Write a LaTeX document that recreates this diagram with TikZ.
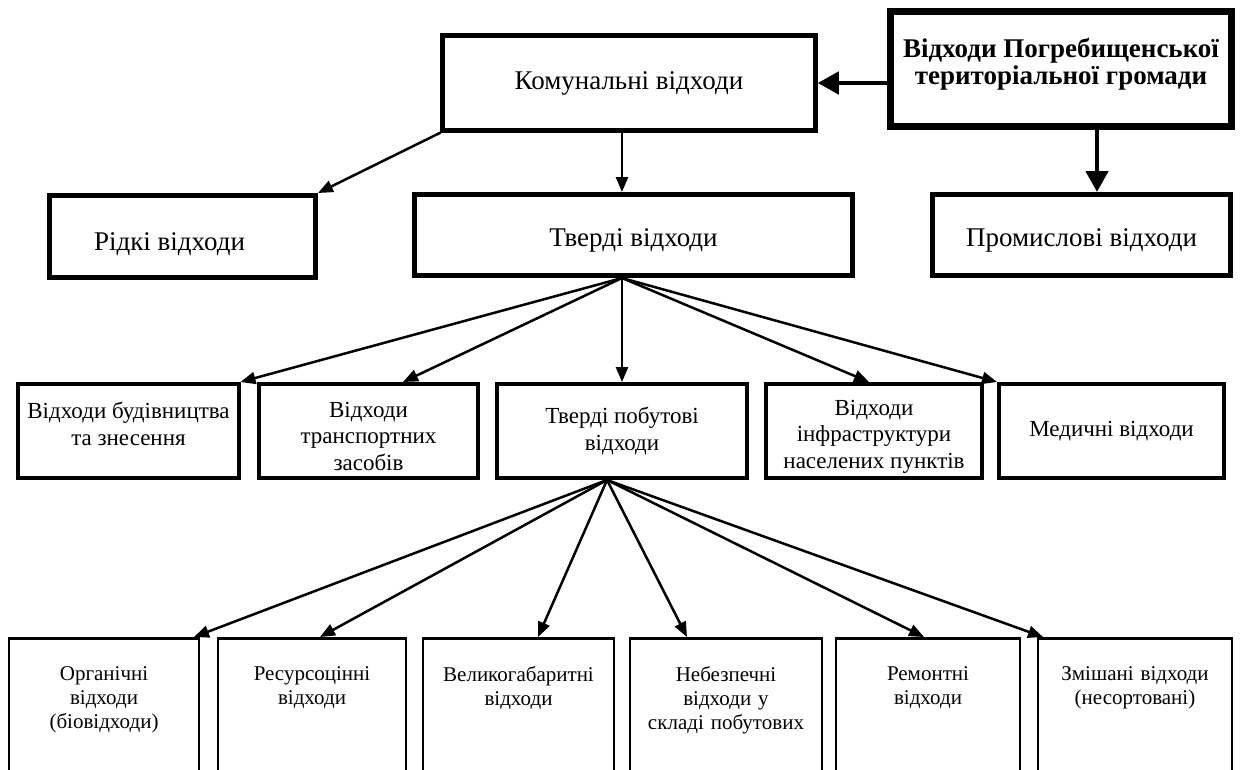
\documentclass[tikz,border=0pt]{standalone}
\usepackage{fontspec}
\setmainfont{Liberation Serif}
\usetikzlibrary{arrows.meta,calc}

\begin{document}
\begin{tikzpicture}[line cap=round,line join=round,>={Triangle[length=15pt,width=12pt]},x=1pt,y=-1pt,
    box/.style={draw,line join=miter,align=center,inner sep=2pt},
    headbox/.style={box,line width=7pt,font=\fontsize{27}{27}\selectfont\bfseries},
    mainbox/.style={box,line width=5pt,font=\fontsize{27}{30}\selectfont},
    midbox/.style={box,line width=4pt,minimum width=#1,minimum height=94pt,font=\fontsize{23}{26.5}\selectfont},
    lowbox/.style={box,line width=2.5pt,anchor=north,minimum width=#1,text width=176pt,inner ysep=28pt,text depth=150pt,font=\fontsize{21}{24}\selectfont},
    arr/.style={->,line width=2.5pt},
    bigarr/.style={->,line width=4.5pt,>={Triangle[length=21pt,width=22pt]}}]
  \useasboundingbox (0,0) rectangle (1240,769);
  \node[headbox,minimum width=341pt,minimum height=115pt,text depth=16pt] (hromada) at (1061,69) {Відходи Погребищенської\\територіальної громади};
  \node[mainbox,line width=4.5pt,minimum width=373pt,minimum height=95pt] (komun) at (629,83) {Комунальні відходи};
  \node[mainbox,minimum width=266pt,minimum height=82pt,text height=34pt] (ridki) at (182.5,236.5) {Рідкі відходи\hspace{26pt}};
  \node[mainbox,minimum width=438pt,minimum height=81pt,text height=29pt] (tverdi) at (633.5,235) {Тверді відходи};
  \node[mainbox,minimum width=298pt,minimum height=81pt,text height=28pt] (promysl) at (1081.5,235) {Промислові відходи};

  \node[midbox=221pt,text depth=14pt] (budiv) at (128.5,431) {Відходи будівництва\\та знесення};
  \node[midbox=219pt,text height=79pt] (transp) at (368.5,431) {Відходи\\транспортних\\засобів};
  \node[midbox=250pt] (tpv) at (622,431) {Тверді побутові\\відходи};
  \node[midbox=216pt,text height=79pt] (infra) at (874,431) {Відходи\\інфраструктури\\населених пунктів};
  \node[midbox=225pt] (medych) at (1111.5,431) {Медичні відходи};

  \node[lowbox=190pt] (organ) at (104,637) {Органічні\\відходи\\(біовідходи)};
  \node[lowbox=188pt] (resurs) at (312,637) {Ресурсоцінні\\відходи};
  \node[lowbox=191pt] (velyk) at (518.5,637) {Великогабаритні\\відходи};
  \node[lowbox=192pt] (nebezp) at (726,637) {Небезпечні\\відходи у\\складі побутових};
  \node[lowbox=184pt] (remont) at (928,637) {Ремонтні\\відходи};
  \node[lowbox=194pt] (zmish) at (1135,637) {Змішані відходи\\(несортовані)};

  \draw[bigarr] (hromada.west |- komun.east) -- (komun.east);
  \draw[bigarr] ([xshift=36pt]hromada.south) -- ([xshift=15.5pt]promysl.north);
  \draw[arr] (komun.south west) -- (ridki.north east);
  \draw[arr] (komun.south -| tpv.north) -- (tverdi.north -| tpv.north);
  \coordinate (hubA) at (tverdi.south -| tpv.north);
  \coordinate (hubB) at ([xshift=-15pt]tpv.south);
  \foreach \n/\s in {budiv/112,transp/34.5,tpv/0,infra/-5,medych/-114.5}
    \draw[arr] (hubA) -- ([xshift=\s]\n.north);
  \foreach \n/\s in {organ/90,resurs/8,velyk/19.5,nebezp/-39,remont/-4,zmish/-92}
    \draw[arr] (hubB) -- ([xshift=\s]\n.north);
\end{tikzpicture}
\end{document}
